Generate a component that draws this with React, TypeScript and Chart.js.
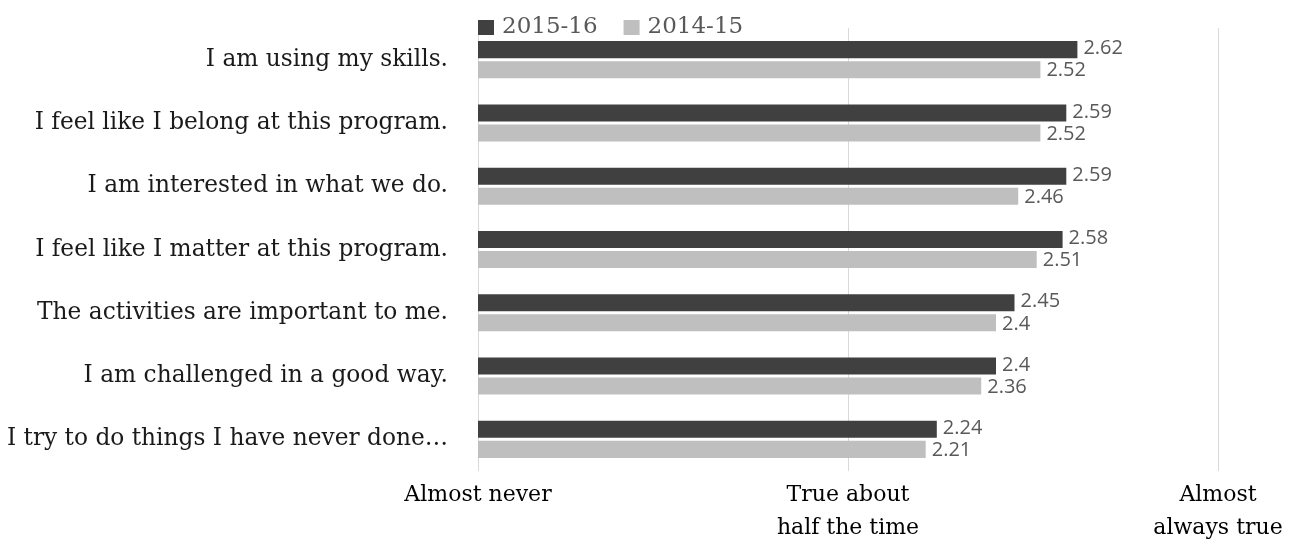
import React, { useEffect, useRef } from "react";
import { Chart, registerables } from "chart.js";

Chart.register(...registerables);

const categories = [
  "I am using my skills.",
  "I feel like I belong at this program.",
  "I am interested in what we do.",
  "I feel like I matter at this program.",
  "The activities are important to me.",
  "I am challenged in a good way.",
  "I try to do things I have never done…",
];
const series2015 = [2.62, 2.59, 2.59, 2.58, 2.45, 2.4, 2.24];
const series2014 = [2.52, 2.52, 2.46, 2.51, 2.4, 2.36, 2.21];
const seriesNames = ["2015-16", "2014-15"];
const xTickLabels: Record<number, string[]> = {
  1: ["Almost never"],
  2: ["True about", "half the time"],
  3: ["Almost", "always true"],
};

const SERIF = "'DejaVu Serif', serif";
const SANS = "'Open Sans', 'Liberation Sans', sans-serif";

const valueLabels = {
  id: "valueLabels",
  afterDatasetsDraw(chart: any) {
    const ctx = chart.ctx;
    ctx.save();
    ctx.font = `20px ${SANS}`;
    ctx.fillStyle = "#595959";
    ctx.textAlign = "left";
    ctx.textBaseline = "middle";
    chart.data.datasets.forEach((ds: any, i: number) => {
      const meta = chart.getDatasetMeta(i);
      const dy = i === 0 ? -1 : 1;
      meta.data.forEach((bar: any, j: number) => {
        ctx.fillText(String(ds.data[j]), bar.x + 6, bar.y + dy);
      });
    });
    ctx.restore();
  },
};

const topLegend = {
  id: "topLegend",
  afterDraw(chart: any) {
    const ctx = chart.ctx;
    const area = chart.chartArea;
    ctx.save();
    ctx.font = `23px ${SERIF}`;
    ctx.textBaseline = "middle";
    ctx.textAlign = "left";
    let x = area.left;
    const y = 27;
    chart.data.datasets.forEach((ds: any) => {
      ctx.fillStyle = ds.backgroundColor;
      ctx.fillRect(x, y - 7, 16, 15);
      x += 24;
      ctx.fillStyle = "#595959";
      ctx.fillText(ds.label, x, y);
      x += ctx.measureText(ds.label).width + 26;
    });
    ctx.restore();
  },
};

export default function App() {
  const ref = useRef<HTMLCanvasElement>(null);
  useEffect(() => {
    if (!ref.current) return;
    const chart = new Chart(ref.current, {
      type: "bar",
      data: {
        labels: categories,
        datasets: [
          {
            label: seriesNames[0],
            data: series2015,
            backgroundColor: "#404040",
            categoryPercentage: 0.633,
            barPercentage: 0.85,
          },
          {
            label: seriesNames[1],
            data: series2014,
            backgroundColor: "#bfbfbf",
            categoryPercentage: 0.633,
            barPercentage: 0.85,
          },
        ],
      },
      options: {
        indexAxis: "y",
        animation: false,
        responsive: true,
        maintainAspectRatio: false,
        layout: { padding: { top: 28, right: 71, left: 8, bottom: 0 } },
        plugins: {
          legend: { display: false },
          tooltip: { enabled: false },
        },
        scales: {
          x: {
            min: 1,
            max: 3,
            ticks: {
              stepSize: 1,
              color: "#000",
              font: { family: SERIF, size: 22, lineHeight: 1.5 },
              padding: 8,
              callback: (v: any) => xTickLabels[v as number] || "",
            },
            grid: { color: "#d9d9d9", drawTicks: false, lineWidth: 1 },
            border: { display: false },
            afterFit: (s: any) => {
              s.height = 71;
              s.paddingLeft = 0;
              s.paddingRight = 0;
            },
          },
          y: {
            ticks: {
              color: "#1a1a1a",
              font: { family: SERIF, size: 23.3 },
              padding: 30,
            },
            grid: { display: false, drawTicks: false },
            border: { display: false },
            afterFit: (s: any) => {
              s.width = 470;
              s.paddingTop = 0;
              s.paddingBottom = 0;
            },
          },
        },
      },
      plugins: [valueLabels, topLegend],
    });
    return () => chart.destroy();
  }, []);
  return (
    <div style={{ position: "fixed", left: 0, top: 0, width: "100vw", height: "100vh", background: "#fff" }}>
      <canvas ref={ref} />
    </div>
  );
}
